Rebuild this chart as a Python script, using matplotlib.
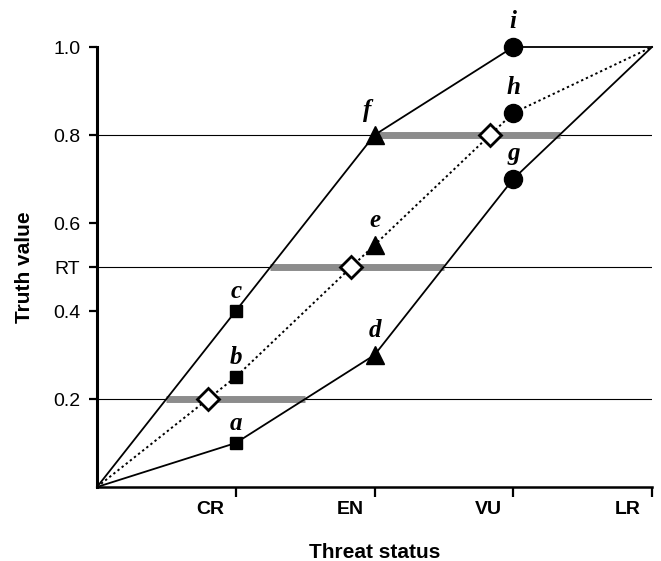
import matplotlib
matplotlib.use("Agg")
import matplotlib.pyplot as plt
import numpy as np

plt.rcParams["font.family"] = ["Liberation Sans", "DejaVu Sans"]

# threat categories on the x axis
categories = ["CR", "EN", "VU", "LR"]
cat_x = [1, 2, 3, 4]

# upper and lower bounds of the truth value, plus the midpoint line
upper_x = [0, 1, 2, 3, 4]
upper_y = [0, 0.4, 0.8, 1.0, 1.0]
lower_x = [0, 1, 2, 3, 4]
lower_y = [0, 0.1, 0.3, 0.7, 1.0]
mid_x = [0, 1, 2, 3, 4]
mid_y = [0, 0.25, 0.55, 0.85, 1.0]

# labelled points
pt_names = ["a", "b", "c", "d", "e", "f", "g", "h", "i"]
pt_x = [1, 1, 1, 2, 2, 2, 3, 3, 3]
pt_y = [0.1, 0.25, 0.4, 0.3, 0.55, 0.8, 0.7, 0.85, 1.0]
pt_marker = ["s", "s", "s", "^", "^", "^", "o", "o", "o"]

# thresholds (horizontal lines)
thresholds = [0.2, 0.5, 0.8]
ytick_vals = [0.2, 0.4, 0.5, 0.6, 0.8, 1.0]
ytick_labels = ["0.2", "0.4", "RT", "0.6", "0.8", "1.0"]

fig = plt.figure(figsize=(6.61, 5.61), dpi=100)
ax = fig.add_axes([97 / 661, 74 / 561, 555 / 661, 440 / 561])
ax.set_xlim(0, 4)
ax.set_ylim(0, 1.0)
ax.patch.set_alpha(0)

for t in thresholds:
    ax.plot([0, 4], [t, t], color="black", lw=0.8, zorder=1)
    # grey band from the upper bound to the lower bound
    x_up = np.interp(t, upper_y[:4], upper_x[:4])
    x_lo = np.interp(t, lower_y, lower_x)
    ax.plot([x_up, x_lo], [t, t], color="#8c8c8c", lw=5, solid_capstyle="butt", zorder=2)
    x_mid = np.interp(t, mid_y, mid_x)
    ax.plot(x_mid, t, marker="D", ms=11, mfc="white", mec="black", mew=2, zorder=6)

ax.plot(upper_x, upper_y, color="black", lw=1.3, zorder=3, clip_on=False)
ax.plot(lower_x, lower_y, color="black", lw=1.3, zorder=3, clip_on=False)
ax.plot(mid_x, mid_y, color="black", lw=1.4, ls=(0, (1.2, 1.5)), zorder=3)

sizes = {"s": 8.5, "^": 12.5, "o": 13}
offsets = {"s": 9, "^": 13, "o": 14}
for name, x, y, m in zip(pt_names, pt_x, pt_y, pt_marker):
    ax.plot(x, y, marker=m, ms=sizes[m], color="black", zorder=5, clip_on=False)
    dx = -5 if name == "f" else 0
    ax.annotate(name, (x, y), xytext=(dx, offsets[m]), textcoords="offset points",
                ha="center", va="baseline", fontsize=18, fontweight="bold",
                fontstyle="italic", family="Liberation Serif")

for s in ["top", "right"]:
    ax.spines[s].set_visible(False)
ax.spines["left"].set_linewidth(2.2)
ax.spines["bottom"].set_linewidth(1.8)

ax.set_xticks(cat_x)
ax.set_xticklabels([])
ax.tick_params(axis="x", direction="out", length=7, width=1.6)
for c, x in zip(categories, cat_x):
    ax.annotate(c, (x, 0), xycoords=ax.get_xaxis_transform(), xytext=(-8, -10),
                textcoords="offset points", ha="right", va="top",
                fontsize=14, fontweight="bold")

ax.set_yticks(ytick_vals)
ax.set_yticklabels(ytick_labels, fontsize=14)
ax.tick_params(axis="y", direction="out", length=6, width=1.6, pad=6)

fig.text(375 / 661, 1 - 552 / 561, "Threat status", ha="center", va="center",
         fontsize=15, fontweight="bold")
fig.text(25 / 661, 1 - 267 / 561, "Truth value", ha="center", va="center",
         rotation=90, fontsize=15, fontweight="bold")

fig.savefig("out.png", dpi=100)
